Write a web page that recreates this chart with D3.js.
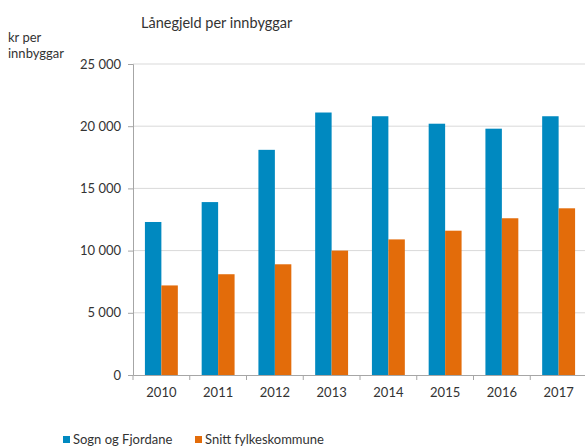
<!DOCTYPE html>
<html><head><meta charset="utf-8">
<script src="https://cdn.jsdelivr.net/npm/d3@7"></script>
<style>
body{margin:0;background:#fff;}
text{font-family:Lato,"Open Sans",sans-serif;fill:#333;font-weight:400;}
</style></head>
<body><svg id="c" width="585" height="448"></svg>
<script>
const years = ["2010","2011","2012","2013","2014","2015","2016","2017"];
const sognFjordane = [12300,13900,18100,21100,20800,20200,19800,20800];
const snittFylke = [7200,8100,8900,10000,10900,11600,12600,13400];
const seriesNames = ["Sogn og Fjordane","Snitt fylkeskommune"];
const yTicks = [0,5000,10000,15000,20000,25000];
const colors = ["#0089c0","#e36c0a"];

const svg = d3.select("#c");
const pL = 133, pR = 587, pT = 64, pB = 375;
const x = d3.scaleBand().domain(years).range([pL,pR]).paddingInner(0.42).paddingOuter(0.21);
const x0 = d3.scaleBand().domain(years).range([pL,pR]);
const y = d3.scaleLinear().domain([0,25000]).range([pB,pT]);
const fmt = v => v===0 ? "0" : d3.format(",")(v).replace(/,/g,"\u00a0");

// grid
svg.append("g").selectAll("line").data(yTicks.filter(d=>d>0)).join("line")
  .attr("x1",pL).attr("x2",585).attr("y1",d=>y(d)).attr("y2",d=>y(d))
  .attr("stroke","#d9d9d9").attr("stroke-width",1);

// bars
const inner = d3.scaleBand().domain([0,1]).range([0,x.bandwidth()]);
const data = years.map((yr,i)=>({yr,vals:[sognFjordane[i],snittFylke[i]]}));
svg.append("g").selectAll("g").data(data).join("g")
  .attr("transform",d=>`translate(${x(d.yr)},0)`)
  .selectAll("rect").data(d=>d.vals.map((v,k)=>({v,k}))).join("rect")
  .attr("x",d=>inner(d.k)).attr("width",inner.bandwidth())
  .attr("y",d=>y(d.v)).attr("height",d=>pB-y(d.v))
  .attr("fill",d=>colors[d.k]);

// y axis
const ya = svg.append("g").attr("transform",`translate(${pL},0)`)
  .call(d3.axisLeft(y).tickValues(yTicks).tickFormat(fmt).tickSize(5).tickPadding(7));
ya.select(".domain").attr("stroke","#a6a6a6");
ya.selectAll(".tick line").attr("stroke","#a6a6a6");
ya.selectAll("text").attr("font-size","13px").attr("fill","#333").style("font-family","Lato,sans-serif");

// x axis
const xa = svg.append("g").attr("transform",`translate(0,${pB})`)
  .call(d3.axisBottom(x0).tickSize(0).tickPadding(13));
xa.select(".domain").attr("stroke","#a6a6a6");
xa.selectAll("text").attr("font-size","13px").attr("fill","#333").style("font-family","Lato,sans-serif");
svg.append("g").selectAll("line").data(years).join("line")
  .attr("x1",d=>x0(d)).attr("x2",d=>x0(d)).attr("y1",pB).attr("y2",pB+5)
  .attr("stroke","#a6a6a6");

// title
svg.append("text").attr("x",141).attr("y",28).attr("font-size","14.5px").text("Lånegjeld per innbyggar");
svg.append("text").attr("x",8).attr("y",42).attr("font-size","13px").text("kr per");
svg.append("text").attr("x",8).attr("y",58).attr("font-size","13px").text("innbyggar");

// legend
const lg = svg.append("g");
const lx = [63,195];
seriesNames.forEach((n,i)=>{
  lg.append("rect").attr("x",lx[i]).attr("y",436).attr("width",7).attr("height",7).attr("fill",colors[i]);
  lg.append("text").attr("x",lx[i]+10).attr("y",444).attr("font-size","13px").text(n);
});
</script></body></html>
